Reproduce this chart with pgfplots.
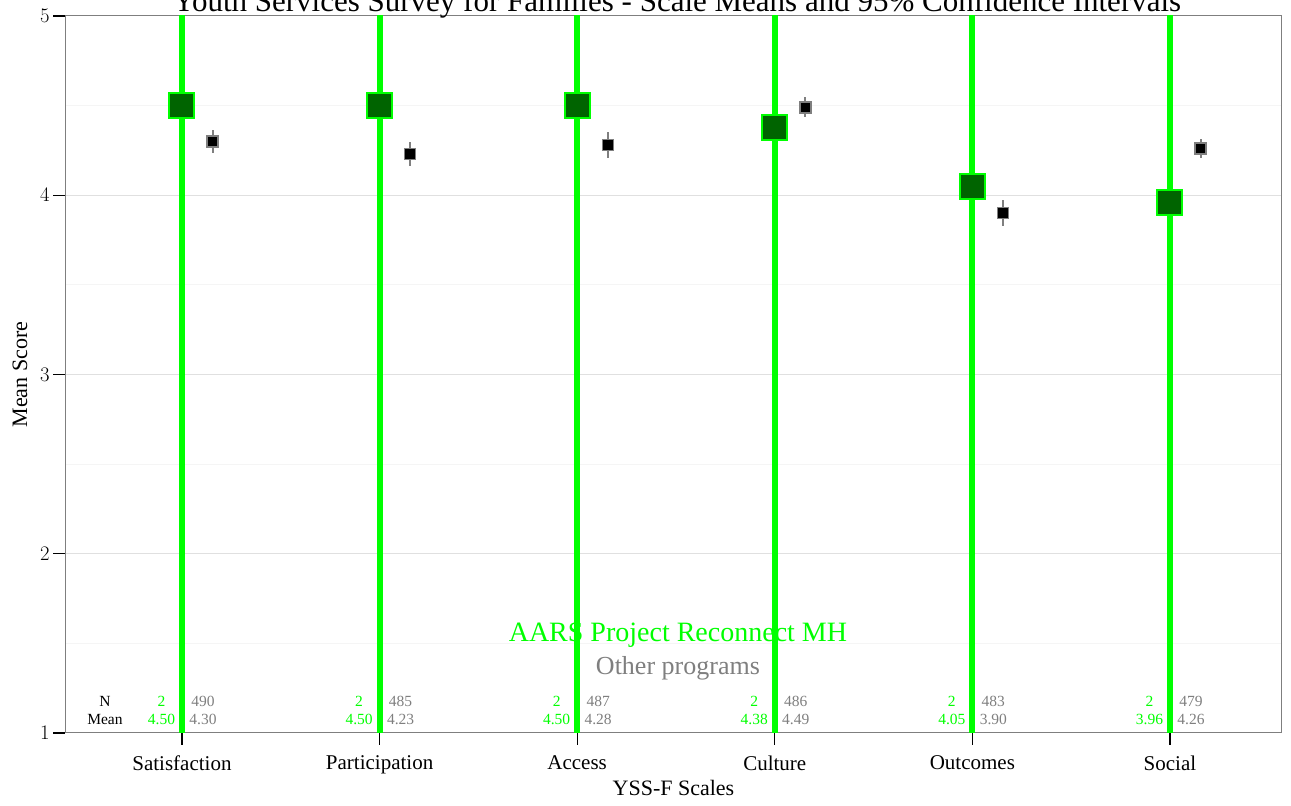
\documentclass[border=0pt]{standalone}
\usepackage{pgfplots}
\pgfplotsset{compat=1.18}
\usepackage{fontspec}
\setmainfont{Liberation Serif}
\definecolor{lime}{RGB}{0,255,0}
\definecolor{dgreen}{RGB}{0,100,0}
\definecolor{midgray}{RGB}{127,127,127}
\newcommand{\ann}[4]{%
  \node[anchor=base, text=lime, xshift=-20.5bp] at (axis cs:#1,1.147) {2};
  \node[anchor=base, text=lime, xshift=-20.5bp] at (axis cs:#1,1.050) {#2};
  \node[anchor=base, text=midgray, xshift=21bp] at (axis cs:#1,1.147) {#3};
  \node[anchor=base, text=midgray, xshift=21bp] at (axis cs:#1,1.050) {#4};}
\begin{document}
\begin{tikzpicture}[x=1bp,y=1bp]
\begin{axis}[
  at={(65bp,73bp)}, anchor=south west,
  scale only axis, width=1217bp, height=717bp,
  xmin=0.408, xmax=6.567, ymin=1, ymax=5,
  xtick={1,2,3,4,5,6},
  xticklabels={Satisfaction,Participation,Access,Culture,Outcomes,Social},
  ytick={1,2,3,4,5}, minor ytick={1.5,2.5,3.5,4.5},
  ymajorgrids, yminorgrids,
  major grid style={color=black!12, line width=1bp},
  minor grid style={color=black!4, line width=1bp},
  tick align=outside, major tick length=12bp, minor tick length=0pt,
  xtick pos=bottom, ytick pos=left,
  tick style={black, line width=1.2bp},
  axis line style={midgray, line width=1bp},
  yticklabel style={font=\fontsize{19bp}{22bp}\selectfont},
  xticklabel style={font=\fontsize{21bp}{24bp}\selectfont, yshift=-7bp},
  xlabel={YSS-F Scales}, ylabel={Mean Score},
  every axis x label/.style={at={(rel axis cs:0.5,0)}, yshift=-63bp, anchor=base, font=\fontsize{22bp}{26bp}\selectfont},
  every axis y label/.style={at={(rel axis cs:0,0.5)}, xshift=-45bp, rotate=90, anchor=center, font=\fontsize{22bp}{26bp}\selectfont},
  clip=true,
]
% green: this program (n = 2, interval spans the whole range)
\addplot[draw=none, mark=none, error bars/.cd, y dir=both, y explicit,
  error mark=none, error bar style={lime, line width=6bp}]
  coordinates {(1,4.50) +- (0,4) (2,4.50) +- (0,4) (3,4.50) +- (0,4)
               (4,4.38) +- (0,4) (5,4.05) +- (0,4) (6,3.96) +- (0,4)};
\addplot[only marks, mark=square*, mark size=12.5bp,
  mark options={draw=lime, fill=dgreen, line width=2bp}]
  coordinates {(1,4.50) (2,4.50) (3,4.50) (4,4.38) (5,4.05) (6,3.96)};
% other programs
\addplot[only marks, mark=square*, mark size=5.5bp,
  mark options={draw=midgray, fill=black, line width=1.5bp},
  error bars/.cd, y dir=both, y explicit, error mark=none,
  error bar style={midgray, line width=2bp}]
  coordinates {(1.155,4.30) +- (0,0.064) (2.155,4.23) +- (0,0.067)
               (3.155,4.28) +- (0,0.072) (4.155,4.49) +- (0,0.056)
               (5.155,3.90) +- (0,0.072) (6.155,4.26) +- (0,0.053)};
% annotations
\begin{scope}[every node/.style={font=\fontsize{15.5bp}{18bp}\selectfont, inner sep=0pt}]
\node[anchor=base] at (axis cs:0.61,1.147) {N};
\node[anchor=base] at (axis cs:0.61,1.050) {Mean};
\ann{1}{4.50}{490}{4.30}
\ann{2}{4.50}{485}{4.23}
\ann{3}{4.50}{487}{4.28}
\ann{4}{4.38}{486}{4.49}
\ann{5}{4.05}{483}{3.90}
\ann{6}{3.96}{479}{4.26}
\end{scope}
\node[anchor=base, text=lime, font=\fontsize{28bp}{32bp}\selectfont] at (axis cs:3.51,1.513) {AARS Project Reconnect MH};
\node[anchor=base, text=midgray, font=\fontsize{26bp}{30bp}\selectfont] at (axis cs:3.51,1.324) {Other programs};
\end{axis}
\node[anchor=base, font=\fontsize{31bp}{35bp}\selectfont] at (677,794) {Youth Services Survey for Families - Scale Means and 95\% Confidence Intervals};
\pgfresetboundingbox
\useasboundingbox (0,0) rectangle (1291,806);
\end{tikzpicture}
\end{document}
